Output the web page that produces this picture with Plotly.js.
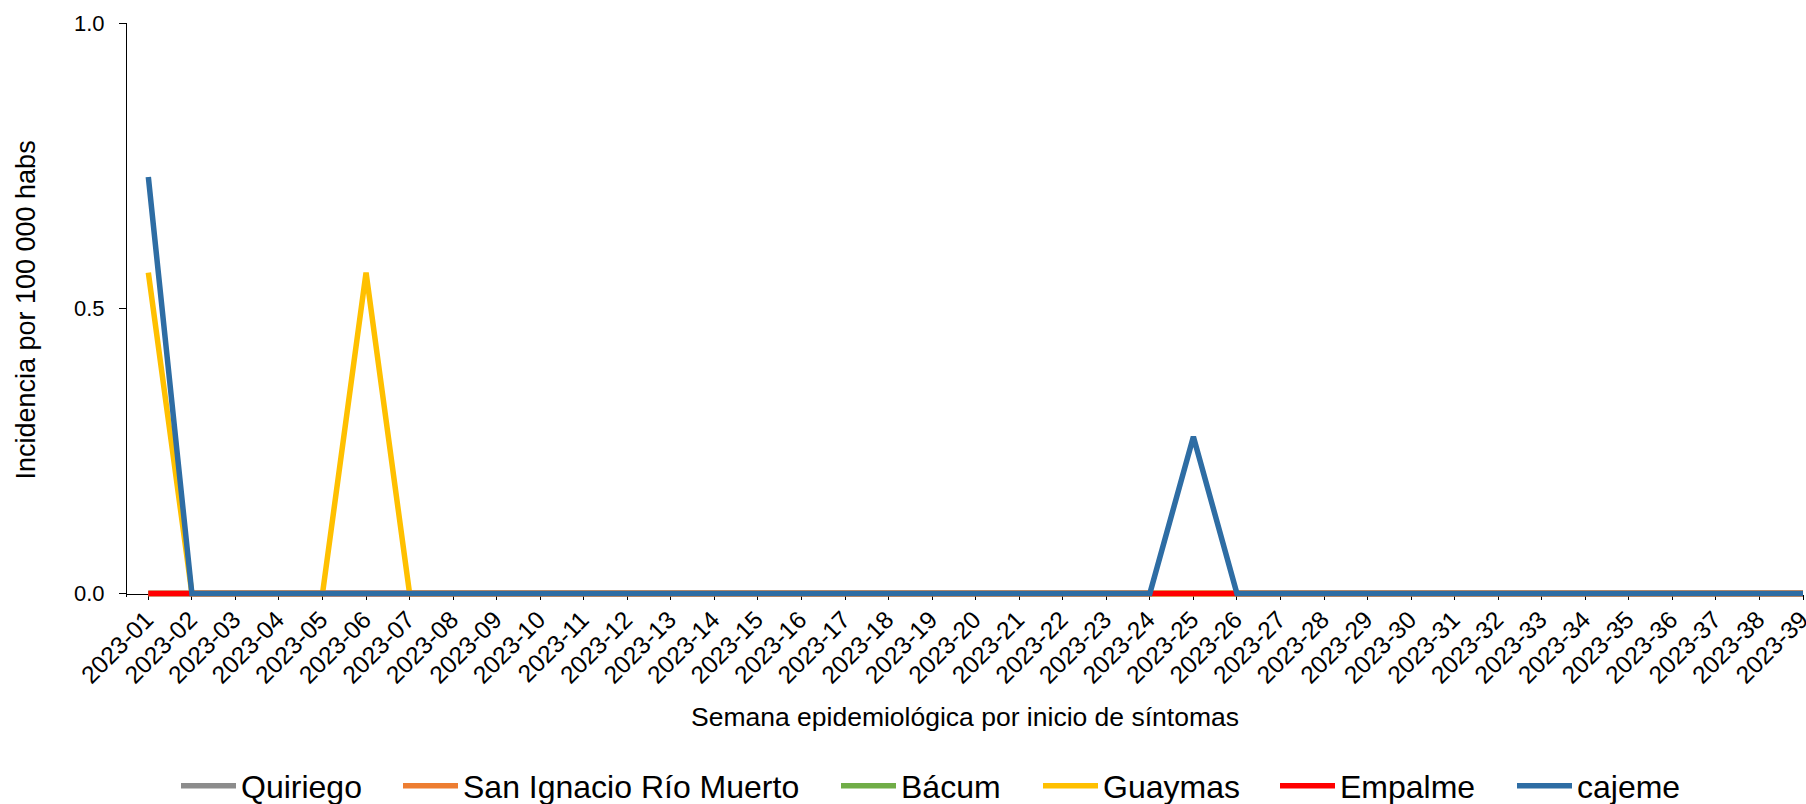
<!DOCTYPE html>
<html>
<head>
<meta charset="utf-8">
<script src="https://cdn.plot.ly/plotly-3.0.1.min.js"></script>
<style>
html,body{margin:0;padding:0;background:#fff;}
#chart{width:1806px;height:804px;}
</style>
</head>
<body>
<div id="chart"></div>
<script>
// Semanas epidemiológicas
const weeks = ["2023-01","2023-02","2023-03","2023-04","2023-05","2023-06","2023-07","2023-08","2023-09","2023-10",
  "2023-11","2023-12","2023-13","2023-14","2023-15","2023-16","2023-17","2023-18","2023-19","2023-20",
  "2023-21","2023-22","2023-23","2023-24","2023-25","2023-26","2023-27","2023-28","2023-29","2023-30",
  "2023-31","2023-32","2023-33","2023-34","2023-35","2023-36","2023-37","2023-38","2023-39"];

const quiriego =        [0,0,0,0,0,0,0,0,0,0, 0,0,0,0,0,0,0,0,0,0, 0,0,0,0,0,0,0,0,0,0, 0,0,0,0,0,0,0,0,0];
const sanIgnacio =      [0,0,0,0,0,0,0,0,0,0, 0,0,0,0,0,0,0,0,0,0, 0,0,0,0,0,0,0,0,0,0, 0,0,0,0,0,0,0,0,0];
const bacum =           [0,0,0,0,0,0,0,0,0,0, 0,0,0,0,0,0,0,0,0,0, 0,0,0,0,0,0,0,0,0,0, 0,0,0,0,0,0,0,0,0];
const guaymas =         [0.5625,0,0,0,0,0.5625,0,0,0,0, 0,0,0,0,0,0,0,0,0,0, 0,0,0,0,0,0,0,0,0,0, 0,0,0,0,0,0,0,0,0];
const empalme =         [0,0,0,0,0,0,0,0,0,0, 0,0,0,0,0,0,0,0,0,0, 0,0,0,0,0,0,0,0,0,0, 0,0,0,0,0,0,0,0,0];
const cajeme =          [0.73,0,0,0,0,0,0,0,0,0, 0,0,0,0,0,0,0,0,0,0, 0,0,0,0,0.275,0,0,0,0,0, 0,0,0,0,0,0,0,0,0];

const seriesNames = ["Quiriego","San Ignacio Río Muerto","Bácum","Guaymas","Empalme","cajeme"];
const seriesData = [quiriego, sanIgnacio, bacum, guaymas, empalme, cajeme];
const seriesColors = ["#8c8c8c","#ed7d31","#70ad47","#ffc000","#ff0000","#2e6da4"];
// left edge (px) of each legend entry
const legendLeft = [176, 398, 836, 1038, 1275, 1512];

const FONT = "Liberation Sans, Arial, sans-serif";
const W = 1806, H = 804;
const yPad = 0.006; // small room under zero so the zero lines are not clipped

const traces = seriesNames.map((name, i) => ({
  type: "scatter",
  mode: "lines",
  name: name,
  x: weeks,
  y: seriesData[i],
  line: {color: seriesColors[i], width: 5.5},
  cliponaxis: false,
  legend: i === 0 ? "legend" : "legend" + (i + 1),
  hoverinfo: "x+y+name"
}));

const layout = {
  width: W,
  height: H,
  margin: {l: 127, r: 3, t: 23, b: 210.7 - 570 * yPad},
  paper_bgcolor: "#ffffff",
  plot_bgcolor: "#ffffff",
  font: {family: FONT, color: "#000000", size: 22},
  showlegend: true,
  xaxis: {
    type: "category",
    range: [-0.49, 38],
    showgrid: false,
    zeroline: false,
    showline: true,
    linecolor: "#000000",
    linewidth: 1,
    layer: "below traces",
    anchor: "free",
    position: yPad / (1 + yPad),
    ticks: "outside",
    ticklen: 5,
    tickcolor: "#000000",
    tickangle: -45,
    ticklabelstandoff: -4,
    ticklabelshift: -2,
    tickfont: {size: 24.5, family: FONT},
    automargin: false,
    title: {text: "Semana epidemiológica por inicio de síntomas", font: {size: 26.5, family: FONT}, standoff: 19}
  },
  yaxis: {
    range: [-yPad, 1],
    tickvals: [0, 0.5, 1],
    tickformat: ".1f",
    showgrid: false,
    zeroline: false,
    showline: true,
    linecolor: "#000000",
    linewidth: 1,
    layer: "below traces",
    ticks: "outside",
    ticklen: 7,
    tickcolor: "#000000",
    ticklabelstandoff: 10,
    tickfont: {size: 22, family: FONT},
    automargin: false,
    title: {text: "Incidencia por 100 000 habs", font: {size: 27, family: FONT}, standoff: 30}
  }
};

legendLeft.forEach((px, i) => {
  const key = i === 0 ? "legend" : "legend" + (i + 1);
  layout[key] = {
    orientation: "h",
    xref: "container",
    yref: "container",
    x: px / W,
    xanchor: "left",
    y: (H - 786) / H,
    yanchor: "middle",
    font: {size: 32, family: FONT},
    itemwidth: 55,
    bgcolor: "rgba(0,0,0,0)",
    borderwidth: 0
  };
});

Plotly.newPlot("chart", traces, layout, {displayModeBar: false, responsive: false});
</script>
</body>
</html>
